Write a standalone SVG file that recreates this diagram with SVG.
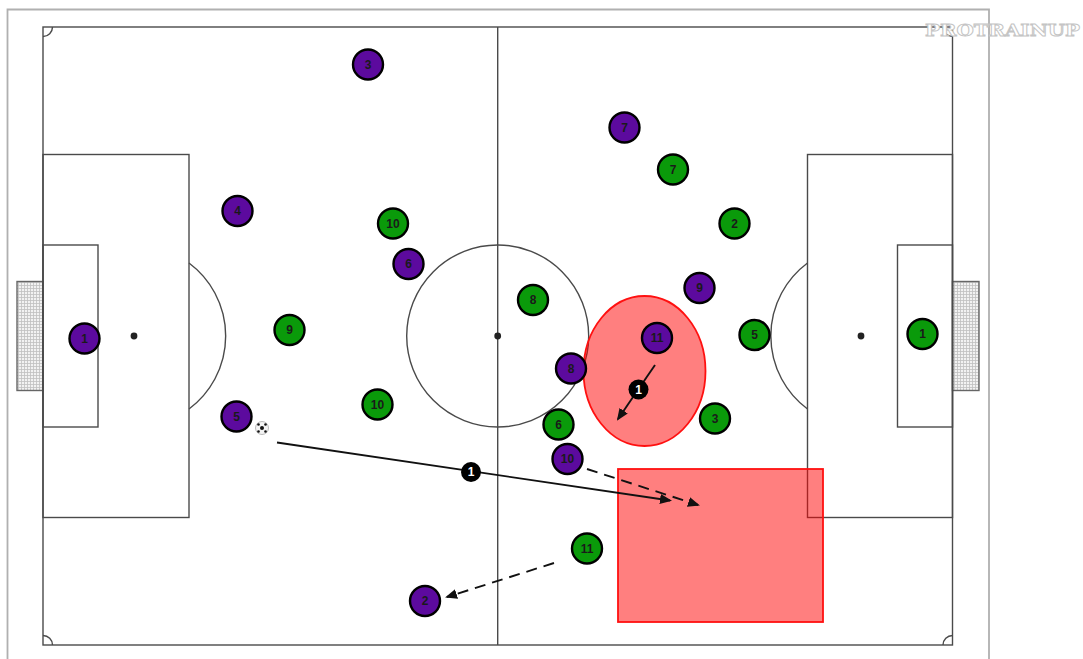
<svg xmlns="http://www.w3.org/2000/svg" width="1083" height="659" viewBox="0 0 1083 659">
<style>
.f{fill:none;stroke:#4a4a4a;stroke-width:1.4}
.o{fill:none;stroke:#b0b0b0;stroke-width:1.8}
.g{fill:url(#net);stroke:#666;stroke-width:1.4}
.zone{fill:#ff0000;fill-opacity:.5;stroke:#ff1010;stroke-width:1.8}
.c{stroke:#000;stroke-width:2.4}
.p{fill:#5c0a9e}
.t{fill:#0a9a0a}
text{font-family:"Liberation Sans",Arial,sans-serif;font-size:12px;font-weight:bold;fill:#1a1a1a;text-anchor:middle}
.l{stroke:#111;stroke-width:1.9;fill:none}
.d{stroke-dasharray:11 7}
</style>
<defs>
<pattern id="net" width="3" height="3" patternUnits="userSpaceOnUse"><rect width="3" height="3" fill="#f2f2f2"/><path d="M0 .5H3M.5 0V3" stroke="#c0c0c0" stroke-width=".8"/></pattern>
<marker id="a" markerWidth="12" markerHeight="10" refX="10" refY="5" orient="auto" markerUnits="userSpaceOnUse"><path d="M0 0L12 5L0 10Z" fill="#111"/></marker>
</defs>
<rect width="1083" height="659" fill="#fff"/>
<g id="pitch">
<path class="o" d="M7.500 659V9.500H989V659"/>
<rect class="g" x="17" y="281.500" width="26" height="109"/>
<rect class="g" x="952.500" y="281.500" width="26.500" height="109"/>
<rect class="f" x="43" y="27" width="909.500" height="618"/>
<path class="f" d="M497.700 27V645"/>
<circle class="f" cx="497.700" cy="336" r="91"/>
<circle cx="497.700" cy="336" r="3.400" fill="#222"/>
<rect class="f" x="43" y="154.500" width="146" height="363"/>
<rect class="f" x="43" y="245" width="55" height="182"/>
<rect class="f" x="807.500" y="154.500" width="145" height="363"/>
<rect class="f" x="897.500" y="245" width="55" height="182"/>
<circle cx="134" cy="336" r="3.400" fill="#222"/>
<circle cx="861" cy="336" r="3.400" fill="#222"/>
<path class="f" d="M189 263A91 91 0 0 1 189 409M807.500 263A91 91 0 0 0 807.500 409"/>
<path class="f" d="M43 36.500A9.500 9.500 0 0 0 52.500 27M943 27A9.500 9.500 0 0 0 952.500 36.500M43 635.500A9.500 9.500 0 0 1 52.500 645M943 645A9.500 9.500 0 0 1 952.500 635.500"/>
</g>
<g id="zones">
<ellipse class="zone" cx="644.500" cy="371" rx="61" ry="75"/>
<rect class="zone" x="618" y="469" width="205" height="153"/>
</g>
<g id="connectors">
<path class="l" d="M277 442.500L670 500.500" marker-end="url(#a)"/>
<path class="l d" d="M587 469L698 505" marker-end="url(#a)"/>
<path class="l d" d="M554 563L447 597" marker-end="url(#a)"/>
<path class="l" d="M655 365L618 419" marker-end="url(#a)"/>
</g>
<g id="badge-pass"><circle cx="471" cy="472" r="10" fill="#000"/><text x="471" y="476" style="fill:#fff">1</text></g>
<g id="badge-run"><circle cx="638.500" cy="389.500" r="10" fill="#000"/><text x="638.500" y="393.500" style="fill:#fff">1</text></g>
<g id="ball">
<circle cx="262" cy="428" r="6.500" fill="#f4f4f4" stroke="#aaa" stroke-width=".8"/>
<circle cx="262" cy="428" r="2" fill="#111"/>
<circle cx="258.500" cy="424.500" r="1.300" fill="#111"/><circle cx="265.500" cy="424.500" r="1.300" fill="#111"/><circle cx="258.500" cy="431.500" r="1.300" fill="#111"/><circle cx="265.500" cy="431.500" r="1.300" fill="#111"/>
</g>
<g id="p1"><circle class="c p" cx="84.500" cy="338.500" r="15"/><text x="84.500" y="342.500">1</text></g>
<g id="p2"><circle class="c p" cx="425" cy="601" r="15"/><text x="425" y="605">2</text></g>
<g id="p3"><circle class="c p" cx="368" cy="64.500" r="15"/><text x="368" y="68.500">3</text></g>
<g id="p4"><circle class="c p" cx="237.500" cy="211" r="15"/><text x="237.500" y="215">4</text></g>
<g id="p5"><circle class="c p" cx="236.500" cy="416.500" r="15"/><text x="236.500" y="420.500">5</text></g>
<g id="p6"><circle class="c p" cx="408.500" cy="264" r="15"/><text x="408.500" y="268">6</text></g>
<g id="p7"><circle class="c p" cx="624.500" cy="127.500" r="15"/><text x="624.500" y="131.500">7</text></g>
<g id="p8"><circle class="c p" cx="571" cy="368.500" r="15"/><text x="571" y="372.500">8</text></g>
<g id="p9"><circle class="c p" cx="699.500" cy="288" r="15"/><text x="699.500" y="292">9</text></g>
<g id="p10"><circle class="c p" cx="567.500" cy="459" r="15"/><text x="567.500" y="463">10</text></g>
<g id="p11"><circle class="c p" cx="657" cy="338" r="15"/><text x="657" y="342">11</text></g>
<g id="t1"><circle class="c t" cx="922.500" cy="334" r="15"/><text x="922.500" y="338">1</text></g>
<g id="t2"><circle class="c t" cx="734.500" cy="223.500" r="15"/><text x="734.500" y="227.500">2</text></g>
<g id="t3"><circle class="c t" cx="715" cy="418.500" r="15"/><text x="715" y="422.500">3</text></g>
<g id="t5"><circle class="c t" cx="754.500" cy="335" r="15"/><text x="754.500" y="339">5</text></g>
<g id="t6"><circle class="c t" cx="558.500" cy="424.500" r="15"/><text x="558.500" y="428.500">6</text></g>
<g id="t7"><circle class="c t" cx="673" cy="169.500" r="15"/><text x="673" y="173.500">7</text></g>
<g id="t8"><circle class="c t" cx="533" cy="300" r="15"/><text x="533" y="304">8</text></g>
<g id="t9"><circle class="c t" cx="289.500" cy="330" r="15"/><text x="289.500" y="334">9</text></g>
<g id="t10a"><circle class="c t" cx="393" cy="223.500" r="15"/><text x="393" y="227.500">10</text></g>
<g id="t10b"><circle class="c t" cx="377.500" cy="404.500" r="15"/><text x="377.500" y="408.500">10</text></g>
<g id="t11"><circle class="c t" cx="587" cy="548.500" r="15"/><text x="587" y="552.500">11</text></g>
<g id="watermark"><text x="1002.500" y="35.500" style="font-family:'DejaVu Serif','Liberation Serif',serif;font-size:17px;font-weight:bold;fill:#fff;stroke:#c4c4c4;stroke-width:.9" textLength="155" lengthAdjust="spacingAndGlyphs">PROTRAINUP</text></g>
</svg>
